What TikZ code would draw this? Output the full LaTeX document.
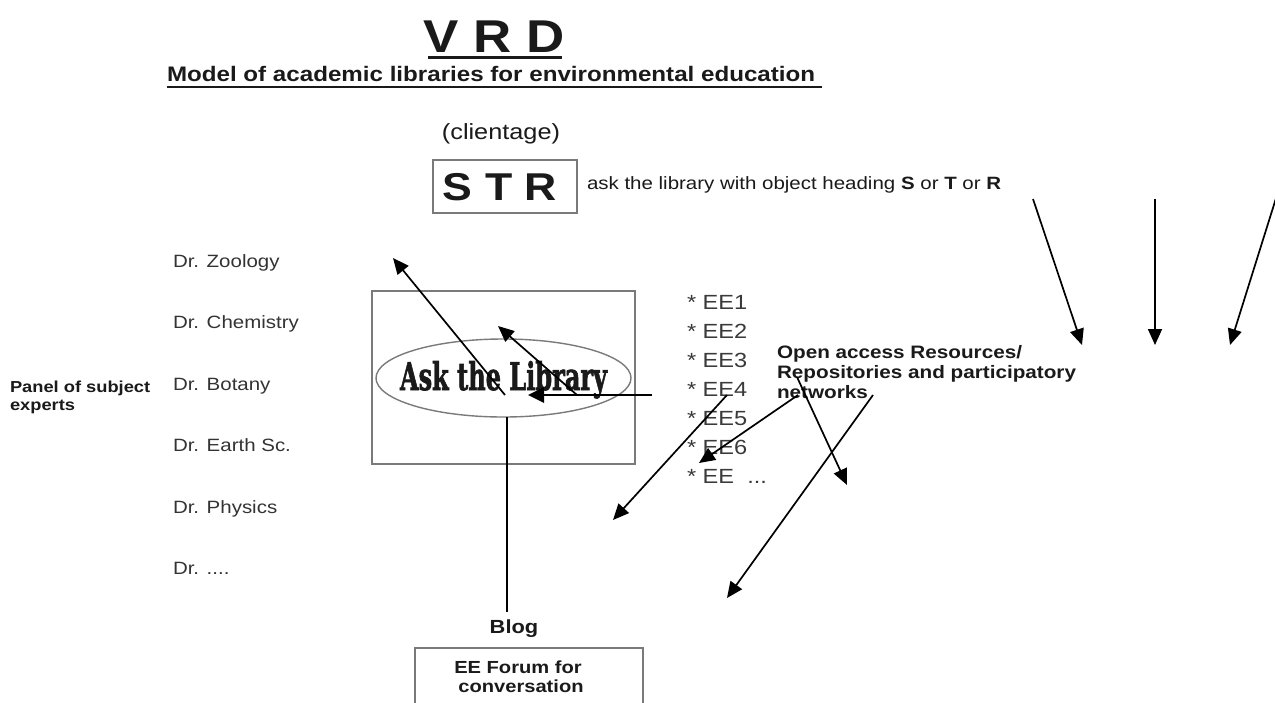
\documentclass[tikz,border=0pt]{standalone}
\usepackage{fontspec}
\setmainfont{Liberation Sans}[FakeStretch=1.15]
\newfontfamily\askfont{DejaVu Serif}[FakeBold=2]
\usetikzlibrary{arrows.meta}
\definecolor{ink}{HTML}{1A1A1A}
\definecolor{drgray}{HTML}{333333}
\definecolor{eegray}{HTML}{3A3A3A}
\definecolor{boxgray}{HTML}{7A7A7A}
\tikzset{
  txt/.style={inner sep=0pt, outer sep=0pt, text=ink},
  drtxt/.style={txt, anchor=base west, text=drgray, font=\fontsize{17.8}{20}\selectfont},
  eetxt/.style={txt, anchor=base west, text=eegray, font=\fontsize{20.5}{22}\selectfont},
  oatxt/.style={txt, anchor=base west, font=\bfseries\fontsize{18}{20}\selectfont},
  frame/.style={draw=boxgray, line width=1.5pt},
  arr/.style={draw=black, line width=1.7pt, -{Triangle[length=16pt,width=14pt]}},
  thickarr/.style={draw=black, line width=2.8pt, -{Triangle[length=16pt,width=15pt]}},
}
\begin{document}
\begin{tikzpicture}[x=1pt,y=-1pt]
\useasboundingbox (0,0) rectangle (1275,702);
\clip (0,0) rectangle (1275,702);
\fill[white] (0,0) rectangle (1275,702);

% titles
\node[txt, anchor=base] (vrd) at (494,52) {\bfseries\fontsize{46}{48}\selectfont V R D};
\draw[ink, line width=2.5pt] (428,57.5) -- (562,57.5);
\node[txt, anchor=base west] (sub) at (167,81) {\bfseries\fontsize{21}{23}\selectfont Model of academic libraries for environmental education};
\draw[ink, line width=2pt] (167,86.5) -- (822,86.5);

% clientage
\node[txt, anchor=base] (cli) at (501,139) {\fontsize{22}{24}\selectfont (clientage)};
\draw[frame] (433,160) rectangle (577,213);
\node[txt, anchor=base] (str) at (500,200) {\bfseries\fontsize{38.8}{40}\selectfont S T R};
\node[txt, anchor=base west] (ask) at (587,189.5) {\fontsize{17.8}{20}\selectfont ask the library with object heading \textbf{S} or \textbf{T} or \textbf{R}};

% panel of experts
\node[txt, anchor=base west] (panel) at (10,392) {\bfseries\fontsize{15.9}{18}\selectfont Panel of subject};
\node[txt, anchor=base west] (panel2) at (10,410) {\bfseries\fontsize{15.9}{18}\selectfont experts};
\node[drtxt] (zoo) at (173,267.4) {Dr. Zoology};
\node[drtxt] (che) at (173,328.8) {Dr. Chemistry};
\node[drtxt] (bot) at (173,390.2) {Dr. Botany};
\node[drtxt] (ear) at (173,451.6) {Dr. Earth Sc.};
\node[drtxt] (phy) at (173,513) {Dr. Physics};
\node[drtxt] (dots) at (173,574.4) {Dr. ....};

% library box and ellipse
\draw[frame] (372,291) rectangle (635,464);
\draw[draw=boxgray, line width=1.4pt] (503.5,378) ellipse [x radius=127.5, y radius=39];
\node[txt, anchor=base, text=ink] (lib) at (503.5,390) {\resizebox{207pt}{29pt}{\askfont\bfseries Ask the Library}};
\coordinate (libbot) at (507,417);

% EE list
\node[eetxt] (ee1) at (687,309) {* EE1};
\node[eetxt] (ee2) at (687,338) {* EE2};
\node[eetxt] (ee3) at (687,367) {* EE3};
\node[eetxt] (ee4) at (687,396) {* EE4};
\node[eetxt] (ee5) at (687,425) {* EE5};
\node[eetxt] (ee6) at (687,454) {* EE6};
\node[eetxt] (eex) at (687,483) {* EE\ \ ...};

% open access
\node[oatxt] (oa1) at (777,358) {Open access Resources/};
\node[oatxt] (oa2) at (777,378) {Repositories and participatory};
\node[oatxt] (oa3) at (777,398) {networks};

% blog and forum
\node[txt, anchor=base] (blog) at (514,633) {\bfseries\fontsize{19}{21}\selectfont Blog};
\draw[frame] (415,720) -- (415,648) -- (643,648) -- (643,720);
\node[txt, anchor=base] (forum1) at (518,673) {\bfseries\fontsize{17.5}{19}\selectfont EE Forum for};
\node[txt, anchor=base] (forum2) at (521,692) {\bfseries\fontsize{17.5}{19}\selectfont conversation};
\draw[black, line width=1.5pt] (libbot) -- (507,612) coordinate (blogtop);

% arrow end points
\coordinate (a1s) at (505,395); \coordinate (a1e) at (393,258);
\coordinate (a2s) at (577,395); \coordinate (a2e) at (498,326);
\coordinate (a3s) at (652,395); \coordinate (a3e) at (528,395);
\coordinate (a4s) at (727,395); \coordinate (a4e) at (613,520);
\coordinate (a5s) at (798,395); \coordinate (a5e) at (699,463);
\coordinate (a6s) at (797,377); \coordinate (a6e) at (847,485);
\coordinate (a7s) at (873,395); \coordinate (a7e) at (727,598);
\coordinate (a8s) at (1033,199); \coordinate (a8e) at (1082,345);
\coordinate (a9s) at (1155,199); \coordinate (a9e) at (1155,345);
\coordinate (a10s) at (1277,195); \coordinate (a10e) at (1230,345);

\draw[arr] (a1s) -- (a1e);
\draw[arr] (a2s) -- (a2e);
\draw[thickarr] (a3s) -- (a3e);
\draw[arr] (a4s) -- (a4e);
\draw[arr] (a5s) -- (a5e);
\draw[arr] (a6s) -- (a6e);
\draw[arr] (a7s) -- (a7e);
\draw[arr] (a8s) -- (a8e);
\draw[arr] (a9s) -- (a9e);
\draw[arr] (a10s) -- (a10e);
\end{tikzpicture}
\end{document}
